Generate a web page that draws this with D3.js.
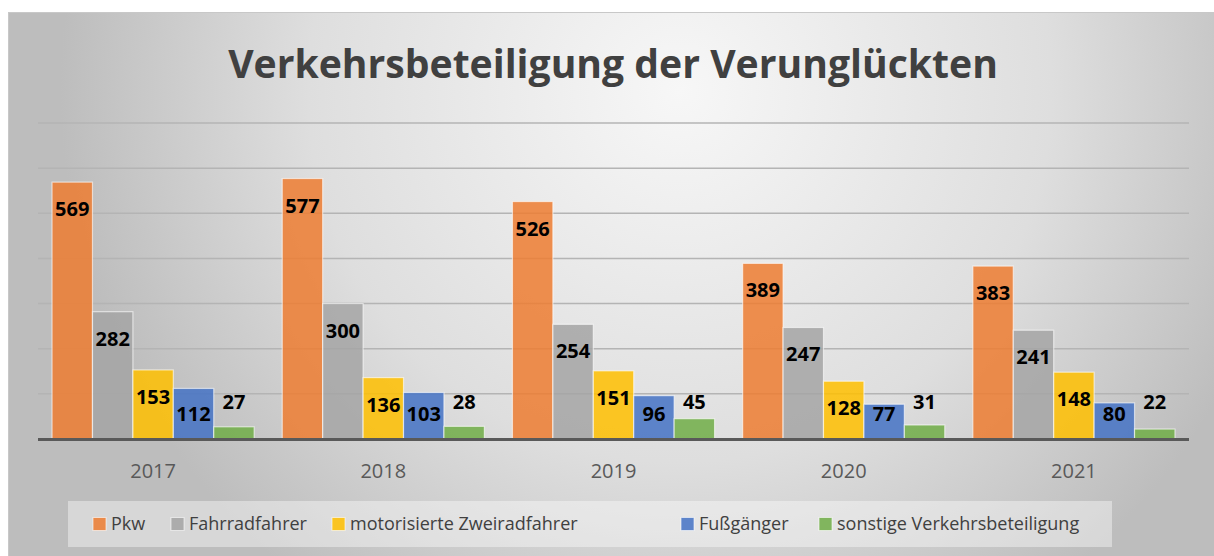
<!DOCTYPE html>
<html>
<head>
<meta charset="utf-8">
<script src="https://cdn.jsdelivr.net/npm/d3@7"></script>
<style>
  body { margin: 0; background: #fff; }
  svg { display: block; }
</style>
</head>
<body>
<div id="chart"></div>
<script>
"use strict";

var years = ["2017", "2018", "2019", "2020", "2021"];
var seriesNames = ["Pkw", "Fahrradfahrer", "motorisierte Zweiradfahrer", "Fußgänger", "sonstige Verkehrsbeteiligung"];
var pkw = [569, 577, 526, 389, 383];
var fahrrad = [282, 300, 254, 247, 241];
var motorrad = [153, 136, 151, 128, 148];
var fussgaenger = [112, 103, 96, 77, 80];
var sonstige = [27, 28, 45, 31, 22];
var yTicks = [0, 100, 200, 300, 400, 500, 600, 700];
var colors = ["#ED7D31", "#A5A5A5", "#FFC000", "#4472C4", "#70AD47"];

var allSeries = [pkw, fahrrad, motorrad, fussgaenger, sonstige];

var width = 1214, height = 556;

var svg = d3.select("#chart").append("svg")
	.attr("width", width)
	.attr("height", height);

// background gradient
var defs = svg.append("defs");
var grad = defs.append("radialGradient")
	.attr("id", "bg")
	.attr("gradientUnits", "userSpaceOnUse")
	.attr("cx", 680).attr("cy", 90)
	.attr("r", 620);
grad.append("stop").attr("offset", "0").attr("stop-color", "#f7f7f7");
grad.append("stop").attr("offset", "0.6").attr("stop-color", "#dedede");
grad.append("stop").attr("offset", "1").attr("stop-color", "#bdbdbd");

svg.append("rect")
	.attr("x", 8.5).attr("y", 12.5)
	.attr("width", width - 8).attr("height", height - 12)
	.attr("fill", "url(#bg)")
	.attr("stroke", "#c8c8c8");

// title
var title = svg.append("text")
	.attr("x", 613).attr("y", 78)
	.attr("text-anchor", "middle")
	.style("font-family", "'Open Sans', 'Noto Sans', sans-serif")
	.style("font-weight", "bold")
	.style("font-size", "40px")
	.attr("fill", "#404040")
	.text("Verkehrsbeteiligung der Verunglückten");
var tw = title.node().getComputedTextLength();
title.style("font-size", (40 * 770 / tw) + "px");

var margin = {left: 38, right: 25, top: 123, bottom: 118};
var plotW = width - margin.left - margin.right;

var x0 = d3.scaleBand()
	.domain(years)
	.range([margin.left, margin.left + plotW])
	.paddingInner(0.122)
	.paddingOuter(0.061);

var x1 = d3.scaleBand()
	.domain(d3.range(seriesNames.length))
	.range([0, x0.bandwidth()]);

var y = d3.scaleLinear()
	.domain([0, 700])
	.range([439, 123]);

// gridlines
svg.append("g")
	.selectAll("line")
	.data(yTicks.slice(1))
	.enter().append("line")
	.attr("x1", margin.left).attr("x2", margin.left + plotW)
	.attr("y1", function(d) { return y(d); })
	.attr("y2", function(d) { return y(d); })
	.attr("stroke", "#b4b4b4")
	.attr("stroke-width", 1.5);

// bars
var groups = svg.selectAll(".year")
	.data(years)
	.enter().append("g")
	.attr("class", "year")
	.attr("transform", function(d) { return "translate(" + x0(d) + ",0)"; });

groups.each(function(yr, yi) {
	var g = d3.select(this);
	var vals = allSeries.map(function(s, si) { return {si: si, v: s[yi]}; });

	g.selectAll("rect")
		.data(vals)
		.enter().append("rect")
		.attr("x", function(d) { return x1(d.si); })
		.attr("y", function(d) { return y(d.v); })
		.attr("width", x1.bandwidth())
		.attr("height", function(d) { return y(0) - y(d.v); })
		.attr("fill", function(d) { return colors[d.si]; })
		.attr("fill-opacity", 0.85)
		.attr("stroke", "#ffffff")
		.attr("stroke-opacity", 0.6)
		.attr("stroke-width", 1.2);

	// labels: inside end, or above when the bar is too short
	g.selectAll("text")
		.data(vals)
		.enter().append("text")
		.attr("x", function(d) { return x1(d.si) + x1.bandwidth() / 2; })
		.attr("y", function(d) {
			var h = y(0) - y(d.v);
			if (h < 30) return y(0) - 37;
			return Math.min(y(d.v) + 27, y(0) - 25);
		})
		.attr("dy", "0.35em")
		.attr("text-anchor", "middle")
		.style("font-family", "'Open Sans', 'Noto Sans', sans-serif")
		.style("font-weight", "bold")
		.style("font-size", "20px")
		.attr("fill", "#000")
		.text(function(d) { return d.v; });
});

// baseline
svg.append("line")
	.attr("x1", margin.left).attr("x2", margin.left + plotW)
	.attr("y1", y(0) + 0.5).attr("y2", y(0) + 0.5)
	.attr("stroke", "#595959")
	.attr("stroke-width", 3);

// x axis labels
var xAxis = svg.append("g")
	.attr("transform", "translate(0," + y(0) + ")")
	.call(d3.axisBottom(x0).tickSize(0));
xAxis.select(".domain").remove();
xAxis.selectAll("text")
	.attr("y", 32)
	.attr("dy", "0.35em")
	.style("font-family", "'Open Sans', 'Noto Sans', sans-serif")
	.style("font-size", "20px")
	.attr("fill", "#595959");

// legend
svg.append("rect")
	.attr("x", 68).attr("y", 501)
	.attr("width", 1044).attr("height", 46)
	.attr("fill", "#ffffff")
	.attr("fill-opacity", 0.4);

var legendX = [93, 171, 332, 681, 819];
var legend = svg.selectAll(".legend")
	.data(seriesNames)
	.enter().append("g")
	.attr("class", "legend")
	.attr("transform", function(d, i) { return "translate(" + legendX[i] + ",524)"; });

legend.append("rect")
	.attr("x", 0).attr("y", -6.5)
	.attr("width", 13).attr("height", 13)
	.attr("fill", function(d, i) { return colors[i]; })
	.attr("fill-opacity", 0.85)
	.attr("stroke", "#fff")
	.attr("stroke-opacity", 0.6);

legend.append("text")
	.attr("x", 18)
	.attr("dy", "0.35em")
	.style("font-family", "'Open Sans', 'Noto Sans', sans-serif")
	.style("font-size", "18px")
	.attr("fill", "#404040")
	.text(function(d) { return d; });
</script>
</body>
</html>
